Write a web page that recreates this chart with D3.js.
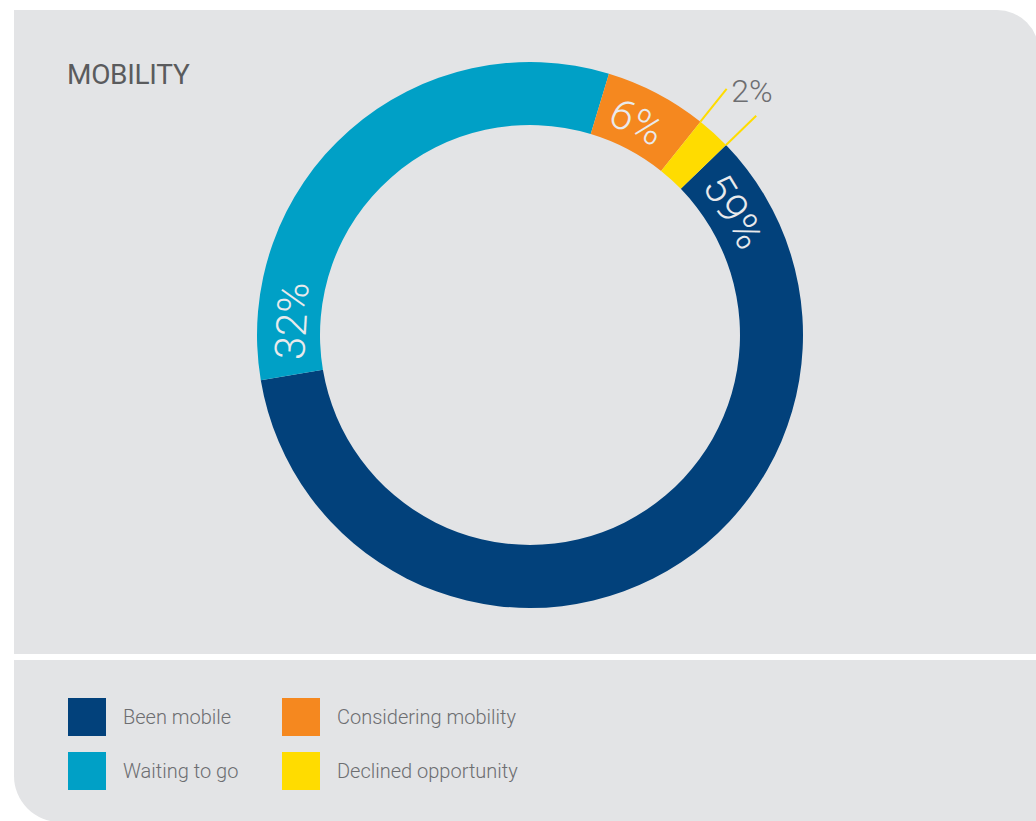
<!DOCTYPE html>
<html>
<head>
<meta charset="utf-8">
<script src="https://cdn.jsdelivr.net/npm/d3@7"></script>
<style>
  html, body { margin: 0; padding: 0; background: #ffffff; }
  svg { display: block; }
  text { font-family: Roboto, "Open Sans", "DejaVu Sans", sans-serif; }
</style>
</head>
<body>
<svg id="chart" width="1036" height="821"></svg>
<script>
// Survey shares (percent), in drawing order clockwise
const categories = ["Been mobile", "Waiting to go", "Considering mobility", "Declined opportunity"];
const values = [59, 32, 6, 2];
const labels = ["59%", "32%", "6%", "2%"];
const colors = ["#02417b", "#00a0c6", "#f5881f", "#ffdc00"];
const title = "MOBILITY";

const W = 1036, H = 821;
const svg = d3.select("#chart");
const panelFill = "#e3e4e6";

// Upper panel: square top-left corner, rounded top-right
const top0 = 10, left0 = 14, right0 = 1039, bot0 = 654, r1 = 42;
svg.append("path")
  .attr("d", `M${left0},${top0} H${right0 - r1} A${r1},${r1} 0 0 1 ${right0},${top0 + r1} V${bot0} H${left0} Z`)
  .attr("fill", panelFill);

// Lower (legend) panel: rounded bottom-left
const top1 = 660, bot1 = 822, r2 = 46;
svg.append("path")
  .attr("d", `M${left0},${top1} H${W + 10} V${bot1} H${left0 + r2} A${r2},${r2} 0 0 1 ${left0},${bot1 - r2} Z`)
  .attr("fill", panelFill);

svg.append("text")
  .attr("x", 67).attr("y", 84)
  .attr("font-size", 28).attr("fill", "#5a5b5d")
  .attr("font-weight", 400)
  .attr("letter-spacing", -0.3)
  .text(title);

// Donut
const cx = 530, cy = 335, rOuter = 273, rInner = 210;
const start = 45.9 * Math.PI / 180;
const pie = d3.pie().sort(null).value(d => d)
  .startAngle(start).endAngle(start + 2 * Math.PI);
const arcs = pie(values);
const arc = d3.arc().innerRadius(rInner).outerRadius(rOuter);

const g = svg.append("g").attr("transform", `translate(${cx},${cy})`);
g.selectAll("path.slice")
  .data(arcs)
  .join("path")
  .attr("class", "slice")
  .attr("d", arc)
  .attr("fill", (d, i) => colors[i]);

// Labels set along the ring, rotated tangent to it
const rLabel = (rInner + rOuter) / 2 - 3;
const pad = 15;
arcs.forEach((d, i) => {
  if (i === 3) return;
  const t = g.append("text")
    .attr("font-size", 42)
    .attr("font-weight", 300)
    .attr("fill", "#e9eaec")
    .attr("text-anchor", "middle")
    .attr("dominant-baseline", "central")
    .text(labels[i]);
  const w = t.node().getComputedTextLength();
  let a;
  if (i === 2) a = (d.startAngle + d.endAngle) / 2 - 0.02;
  else a = d.startAngle + (pad + w / 2) / rLabel;
  const deg = a * 180 / Math.PI;
  const x = rLabel * Math.sin(a), y = -rLabel * Math.cos(a);
  t.attr("transform", `translate(${x},${y}) rotate(${deg})`);
});

// Leader lines and outside label for the smallest slice
const small = arcs[3];
[small.startAngle, small.endAngle].forEach(a => {
  g.append("line")
    .attr("x1", rOuter * Math.sin(a)).attr("y1", -rOuter * Math.cos(a))
    .attr("x2", (rOuter + 42) * Math.sin(a)).attr("y2", -(rOuter + 42) * Math.cos(a))
    .attr("stroke", colors[3]).attr("stroke-width", 2);
});
const aMid = (small.startAngle + small.endAngle) / 2;
g.append("text")
  .attr("x", 330 * Math.sin(aMid))
  .attr("y", -330 * Math.cos(aMid))
  .attr("font-size", 32).attr("font-weight", 300)
  .attr("fill", "#6d6e71")
  .attr("text-anchor", "middle")
  .attr("dominant-baseline", "central")
  .text(labels[3]);

// Legend: two columns, two rows
const legend = svg.append("g");
const order = [[0, 0, 0], [1, 0, 1], [2, 1, 0], [3, 1, 1]];
order.forEach(([i, col, row]) => {
  const x = 68 + col * 214, y = 698 + row * 54;
  legend.append("rect")
    .attr("x", x).attr("y", y).attr("width", 38).attr("height", 38)
    .attr("fill", colors[i]);
  legend.append("text")
    .attr("x", x + 55).attr("y", y + 19)
    .attr("dominant-baseline", "central")
    .attr("font-size", 20).attr("font-weight", 300)
    .attr("fill", "#6d6e71")
    .text(categories[i]);
});
</script>
</body>
</html>
